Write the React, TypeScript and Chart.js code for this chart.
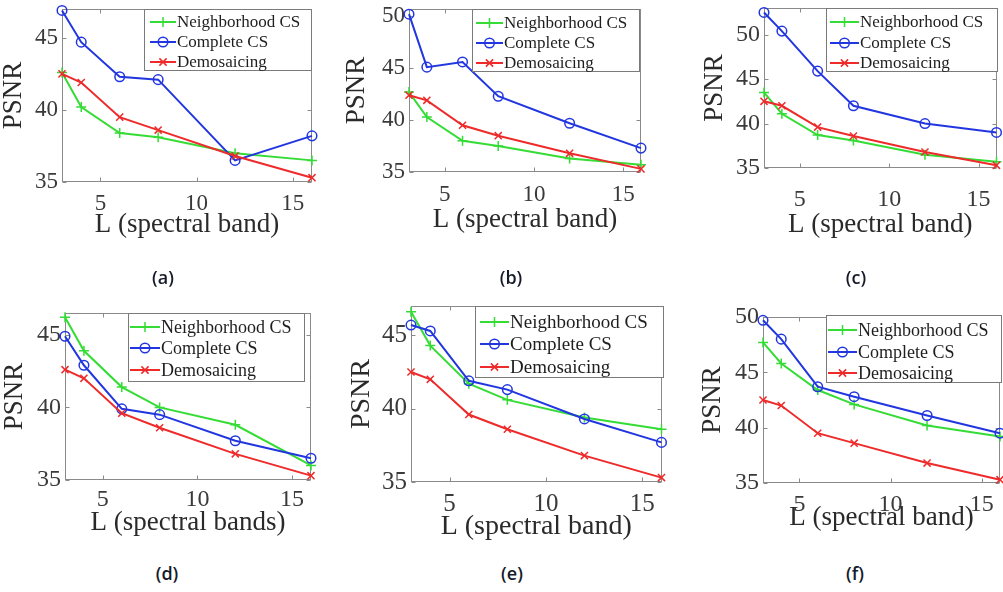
import React, { useEffect, useRef } from "react";
import { Chart, registerables } from "chart.js";

Chart.register(...registerables);

// ---------- data ----------
const L_VALUES = [3, 4, 6, 8, 12, 16];
const X_TICKS = [5, 10, 15];
const SERIES_NAMES = ["Neighborhood CS", "Complete CS", "Demosaicing"];

const A_NEIGHBORHOOD = [42.6, 40.2, 38.4, 38.1, 37.0, 36.5];
const A_COMPLETE = [46.9, 44.7, 42.3, 42.1, 36.5, 38.2];
const A_DEMOSAIC = [42.5, 41.9, 39.5, 38.6, 36.8, 35.3];

const B_NEIGHBORHOOD = [42.7, 40.3, 38.0, 37.5, 36.3, 35.7];
const B_COMPLETE = [50.2, 45.1, 45.6, 42.3, 39.7, 37.3];
const B_DEMOSAIC = [42.4, 41.9, 39.5, 38.5, 36.8, 35.3];

const C_NEIGHBORHOOD = [43.5, 41.1, 38.7, 38.1, 36.5, 35.7];
const C_COMPLETE = [52.5, 50.4, 45.9, 42.0, 40.0, 39.0];
const C_DEMOSAIC = [42.5, 42.0, 39.6, 38.6, 36.8, 35.3];

const D_NEIGHBORHOOD = [46.2, 43.9, 41.4, 40.0, 38.8, 36.0];
const D_COMPLETE = [44.9, 42.9, 39.9, 39.5, 37.7, 36.5];
const D_DEMOSAIC = [42.6, 42.0, 39.6, 38.6, 36.8, 35.3];

const E_NEIGHBORHOOD = [46.6, 44.3, 41.7, 40.6, 39.4, 38.6];
const E_COMPLETE = [45.7, 45.3, 41.9, 41.3, 39.3, 37.7];
const E_DEMOSAIC = [42.5, 42.0, 39.6, 38.6, 36.8, 35.3];

const F_NEIGHBORHOOD = [47.7, 45.8, 43.4, 42.1, 40.2, 39.2];
const F_COMPLETE = [49.7, 48.0, 43.7, 42.8, 41.1, 39.5];
const F_DEMOSAIC = [42.5, 42.0, 39.5, 38.6, 36.8, 35.3];

const Y_TICKS_3 = [35, 40, 45];
const Y_TICKS_4 = [35, 40, 45, 50];

const CAPTIONS = ["(a)", "(b)", "(c)", "(d)", "(e)", "(f)"];
const X_TITLE = "L (spectral band)";
const X_TITLE_D = "L (spectral bands)";
const Y_TITLE = "PSNR";

// ---------- styles ----------
const GREEN = "#35dc35";
const BLUE = "#2236e0";
const RED = "#ee2a2a";
const SERIF = "'Liberation Serif', 'Times New Roman', serif";
const FRAME = "#8a8a8a";

type Box = { x: number; y: number; w: number; h: number };
type Panel = {
  n: number[];
  c: number[];
  d: number[];
  yMax: number;
  yTicks: number[];
  xTitle: string;
  caption: string;
  canvas: Box;
  plot: { l: number; t: number; r: number; b: number };
  xTickCenter: number;
  xTitleY: number;
  yTitleX: number;
  legend: { l: number; t: number; w: number; h: number; rows: number[]; font: number; lineL: number; lineR: number };
  captionPos: { x: number; y: number };
  tickFont: number;
  titleFont: number;
};

const PANELS: Panel[] = [
  {
    n: A_NEIGHBORHOOD, c: A_COMPLETE, d: A_DEMOSAIC, yMax: 47, yTicks: Y_TICKS_3, xTitle: X_TITLE, caption: CAPTIONS[0],
    canvas: { x: 0, y: 0, w: 332, h: 250 }, plot: { l: 62, t: 9, r: 312, b: 182 },
    xTickCenter: 204, xTitleY: 225, yTitleX: 14,
    legend: { l: 144, t: 9, w: 168, h: 62, rows: [13, 33, 53], font: 17, lineL: 6, lineR: 32 },
    captionPos: { x: 163, y: 277 }, tickFont: 23, titleFont: 27,
  },
  {
    n: B_NEIGHBORHOOD, c: B_COMPLETE, d: B_DEMOSAIC, yMax: 50.7, yTicks: Y_TICKS_4, xTitle: X_TITLE, caption: CAPTIONS[1],
    canvas: { x: 335, y: 0, w: 330, h: 250 }, plot: { l: 409, t: 9, r: 641, b: 172 },
    xTickCenter: 195, xTitleY: 220, yTitleX: 357,
    legend: { l: 472, t: 9, w: 168, h: 63, rows: [14, 34, 54], font: 17, lineL: 4, lineR: 31 },
    captionPos: { x: 511, y: 277 }, tickFont: 23, titleFont: 27,
  },
  {
    n: C_NEIGHBORHOOD, c: C_COMPLETE, d: C_DEMOSAIC, yMax: 53, yTicks: Y_TICKS_4, xTitle: X_TITLE, caption: CAPTIONS[2],
    canvas: { x: 668, y: 0, w: 335, h: 250 }, plot: { l: 764, t: 8, r: 998, b: 168 },
    xTickCenter: 200, xTitleY: 225, yTitleX: 715,
    legend: { l: 826, t: 8, w: 172, h: 64, rows: [14, 35, 55], font: 17, lineL: 4, lineR: 33 },
    captionPos: { x: 856, y: 277 }, tickFont: 24, titleFont: 27,
  },
  {
    n: D_NEIGHBORHOOD, c: D_COMPLETE, d: D_DEMOSAIC, yMax: 46.5, yTicks: Y_TICKS_3, xTitle: X_TITLE_D, caption: CAPTIONS[3],
    canvas: { x: 0, y: 290, w: 332, h: 262 }, plot: { l: 65, t: 313, r: 311, b: 480 },
    xTickCenter: 500, xTitleY: 523, yTitleX: 15,
    legend: { l: 128, t: 313, w: 177, h: 69, rows: [14, 35, 57], font: 18, lineL: 2, lineR: 32 },
    captionPos: { x: 167, y: 573 }, tickFont: 24, titleFont: 27,
  },
  {
    n: E_NEIGHBORHOOD, c: E_COMPLETE, d: E_DEMOSAIC, yMax: 47, yTicks: Y_TICKS_3, xTitle: X_TITLE, caption: CAPTIONS[4],
    canvas: { x: 335, y: 290, w: 333, h: 262 }, plot: { l: 411, t: 306, r: 664, b: 482 },
    xTickCenter: 504, xTitleY: 527, yTitleX: 362,
    legend: { l: 475, t: 306, w: 189, h: 72, rows: [16, 38, 61], font: 19, lineL: 5, lineR: 34 },
    captionPos: { x: 512, y: 573 }, tickFont: 25, titleFont: 28,
  },
  {
    n: F_NEIGHBORHOOD, c: F_COMPLETE, d: F_DEMOSAIC, yMax: 50, yTicks: Y_TICKS_4, xTitle: X_TITLE, caption: CAPTIONS[5],
    canvas: { x: 668, y: 290, w: 345, h: 262 }, plot: { l: 763, t: 317, r: 1000, b: 483 },
    xTickCenter: 505, xTitleY: 518, yTitleX: 713,
    legend: { l: 826, t: 315, w: 176, h: 68, rows: [15, 37, 58], font: 18, lineL: 2, lineR: 31 },
    captionPos: { x: 855, y: 573 }, tickFont: 24, titleFont: 27,
  },
];

const STYLES = [
  { color: GREEN, style: "cross", radius: 5 },
  { color: BLUE, style: "circle", radius: 4.8 },
  { color: RED, style: "crossRot", radius: 5 },
];

function drawMarker(ctx: CanvasRenderingContext2D, style: string, x: number, y: number, r: number) {
  ctx.beginPath();
  if (style === "cross") {
    ctx.moveTo(x - r, y); ctx.lineTo(x + r, y);
    ctx.moveTo(x, y - r); ctx.lineTo(x, y + r);
  } else if (style === "crossRot") {
    const k = r * 0.72;
    ctx.moveTo(x - k, y - k); ctx.lineTo(x + k, y + k);
    ctx.moveTo(x - k, y + k); ctx.lineTo(x + k, y - k);
  } else {
    ctx.arc(x, y, r, 0, Math.PI * 2);
  }
  ctx.stroke();
}

const framePlugin = {
  id: "matlabFrame",
  beforeDatasetsDraw(chart: any) {
    const { ctx, chartArea: a, scales } = chart;
    ctx.save();
    ctx.strokeStyle = FRAME;
    ctx.lineWidth = 1;
    const L = Math.round(a.left) + 0.5, T = Math.round(a.top) + 0.5;
    const R = Math.round(a.right) - 0.5, B = Math.round(a.bottom) - 0.5;
    ctx.strokeRect(L, T, R - L, B - T);
    const tl = 4;
    ctx.beginPath();
    scales.x.ticks.forEach((t: any) => {
      const px = Math.round(scales.x.getPixelForValue(t.value)) + 0.5;
      ctx.moveTo(px, B); ctx.lineTo(px, B - tl);
      ctx.moveTo(px, T); ctx.lineTo(px, T + tl);
    });
    scales.y.ticks.forEach((t: any) => {
      const py = Math.round(scales.y.getPixelForValue(t.value)) + 0.5;
      ctx.moveTo(L, py); ctx.lineTo(L + tl, py);
      ctx.moveTo(R, py); ctx.lineTo(R - tl, py);
    });
    ctx.stroke();
    ctx.restore();
  },
};

const legendPlugin = {
  id: "boxLegend",
  afterDraw(chart: any) {
    const o = chart.options.plugins.boxLegend;
    if (!o) return;
    const { ctx } = chart;
    ctx.save();
    const x = o.l, y = o.t;
    ctx.fillStyle = "#ffffff";
    ctx.fillRect(x, y, o.w, o.h);
    ctx.strokeStyle = "#7a7a7a";
    ctx.lineWidth = 1;
    ctx.strokeRect(Math.round(x) + 0.5, Math.round(y) + 0.5, o.w - 1, o.h - 1);
    chart.data.datasets.forEach((ds: any, i: number) => {
      const ry = y + o.rows[i];
      const x1 = x + o.lineL, x2 = x + o.lineR;
      ctx.strokeStyle = ds.borderColor;
      ctx.lineWidth = 2;
      ctx.beginPath();
      ctx.moveTo(x1, ry); ctx.lineTo(x2, ry);
      ctx.stroke();
      ctx.lineWidth = 1.5;
      drawMarker(ctx, ds.pointStyle, (x1 + x2) / 2, ry, ds.pointRadius);
      ctx.fillStyle = "#1e1e1e";
      ctx.font = `${o.font}px ${SERIF}`;
      ctx.textAlign = "left";
      ctx.textBaseline = "middle";
      ctx.fillText(ds.label, x2 + 1, ry + 1);
    });
    ctx.restore();
  },
};

function PanelChart({ p }: { p: Panel }) {
  const ref = useRef<HTMLCanvasElement | null>(null);
  useEffect(() => {
    if (!ref.current) return;
    const cv = p.canvas;
    const tickLH = p.tickFont * 1.2;
    const titleLH = p.titleFont * 1.2;
    const series = [p.n, p.c, p.d];
    const chart = new Chart(ref.current, {
      type: "line",
      data: {
        datasets: series.map((vals, i) => ({
          label: SERIES_NAMES[i],
          data: L_VALUES.map((xv, j) => ({ x: xv, y: vals[j] })),
          borderColor: STYLES[i].color,
          backgroundColor: "rgba(0,0,0,0)",
          borderWidth: 2,
          pointStyle: STYLES[i].style as any,
          pointRadius: STYLES[i].radius,
          pointBorderWidth: 1.5,
          pointBorderColor: STYLES[i].color,
          pointBackgroundColor: "rgba(0,0,0,0)",
          tension: 0,
          clip: false as any,
          order: 2 - i,
        })),
      },
      options: {
        animation: false,
        responsive: false,
        maintainAspectRatio: false,
        devicePixelRatio: 1,
        events: [],
        layout: {
          padding: {
            left: 0,
            top: p.plot.t - cv.y,
            right: cv.x + cv.w - p.plot.r,
            bottom: 0,
          },
        },
        plugins: {
          legend: { display: false },
          tooltip: { enabled: false },
          boxLegend: {
            l: p.legend.l - cv.x,
            t: p.legend.t - cv.y,
            w: p.legend.w,
            h: p.legend.h,
            rows: p.legend.rows,
            font: p.legend.font,
            lineL: p.legend.lineL,
            lineR: p.legend.lineR,
          },
        } as any,
        scales: {
          x: {
            type: "linear",
            min: 3,
            max: 16,
            grid: { display: false, drawTicks: false },
            border: { display: false },
            ticks: {
              autoSkip: false,
              maxRotation: 0,
              padding: p.xTickCenter - p.plot.b - tickLH / 2,
              color: "#3a3a3a",
              font: { family: SERIF, size: p.tickFont },
            },
            afterBuildTicks: (s: any) => {
              s.ticks = X_TICKS.map((v) => ({ value: v }));
            },
            afterFit: (s: any) => {
              s.height = cv.y + cv.h - p.plot.b;
              s.paddingLeft = 0; s.paddingRight = 0; s.paddingTop = 0; s.paddingBottom = 0;
            },
            title: {
              display: true,
              text: p.xTitle,
              color: "#2a2a2a",
              font: { family: SERIF, size: p.titleFont },
              padding: { top: 0, bottom: cv.y + cv.h - p.xTitleY - titleLH / 2 },
            },
          },
          y: {
            type: "linear",
            min: 35,
            max: p.yMax,
            grid: { display: false, drawTicks: false },
            border: { display: false },
            ticks: {
              autoSkip: false,
              padding: 4,
              color: "#3a3a3a",
              font: { family: SERIF, size: p.tickFont },
            },
            afterBuildTicks: (s: any) => {
              s.ticks = p.yTicks.map((v) => ({ value: v }));
            },
            afterFit: (s: any) => {
              s.width = p.plot.l - cv.x;
              s.paddingLeft = 0; s.paddingRight = 0; s.paddingTop = 0; s.paddingBottom = 0;
            },
            title: {
              display: true,
              text: Y_TITLE,
              color: "#2a2a2a",
              font: { family: SERIF, size: p.titleFont },
              padding: { top: p.yTitleX - cv.x - titleLH / 2, bottom: 0 },
            },
          },
        },
      } as any,
      plugins: [framePlugin, legendPlugin],
    });
    return () => chart.destroy();
  }, [p]);
  return (
    <canvas
      ref={ref}
      width={p.canvas.w}
      height={p.canvas.h}
      style={{ position: "absolute", left: p.canvas.x, top: p.canvas.y, width: p.canvas.w, height: p.canvas.h }}
    />
  );
}

export default function App() {
  return (
    <div
      style={{
        position: "absolute",
        left: 0,
        top: 0,
        width: 1003,
        height: 592,
        overflow: "hidden",
        background: "#ffffff",
      }}
    >
      {PANELS.map((p, i) => (
        <PanelChart key={i} p={p} />
      ))}
      {PANELS.map((p, i) => (
        <div
          key={"cap" + i}
          style={{
            position: "absolute",
            left: p.captionPos.x - 30,
            top: p.captionPos.y - 14,
            width: 60,
            height: 28,
            lineHeight: "28px",
            textAlign: "center",
            fontFamily: "'Open Sans', 'Noto Sans', sans-serif",
            fontWeight: 600,
            fontSize: 18,
            color: "#141a2a",
          }}
        >
          {p.caption}
        </div>
      ))}
    </div>
  );
}
